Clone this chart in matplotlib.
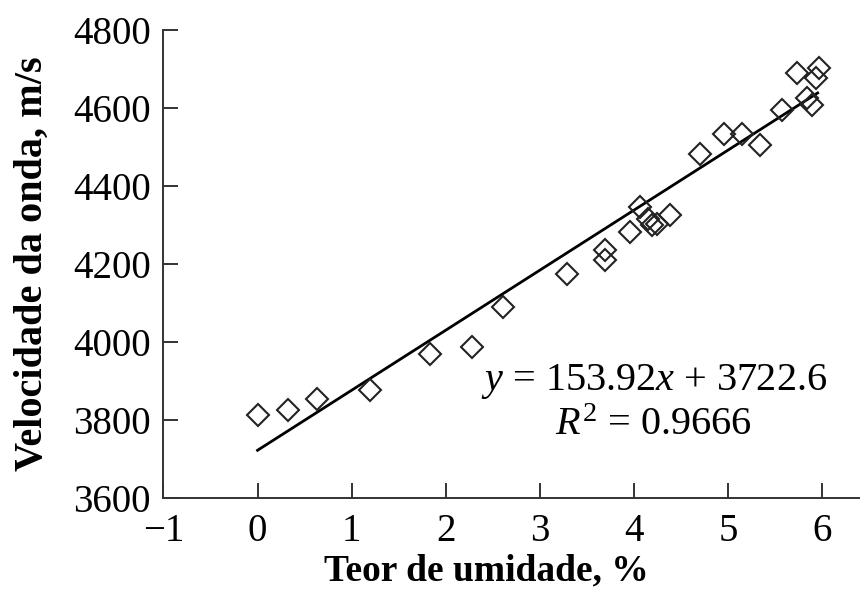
import matplotlib
matplotlib.use('Agg')
import matplotlib.pyplot as plt
import numpy as np

# moisture content (%) and wave velocity (m/s)
teor = [0.00, 0.32, 0.63, 1.19, 1.83, 2.28, 2.61, 3.29, 3.69, 3.69,
        3.96, 4.06, 4.15, 4.19, 4.24, 4.38, 4.70, 4.95, 5.15, 5.34,
        5.57, 5.73, 5.84, 5.89, 5.93, 5.96]
velocidade = [3814, 3827, 3855, 3878, 3970, 3988, 4090, 4175, 4236, 4210,
              4282, 4346, 4315, 4300, 4302, 4325, 4481, 4532, 4532, 4504,
              4595, 4690, 4626, 4608, 4677, 4703]

# fitted line
slope = 153.92
intercept = 3722.6
fit_range = [0.0, 5.95]

xticks = [-1, 0, 1, 2, 3, 4, 5, 6]
yticks = [3600, 3800, 4000, 4200, 4400, 4600, 4800]

plt.rcParams['font.family'] = ['Liberation Serif', 'DejaVu Serif']
plt.rcParams['mathtext.fontset'] = 'custom'
plt.rcParams['mathtext.rm'] = 'Liberation Serif'
plt.rcParams['mathtext.it'] = 'Liberation Serif:italic'

fig = plt.figure(figsize=(8.6, 5.98), dpi=100)
ax = fig.add_axes([0.19, 0.167, 0.81, 0.783])

xf = np.array(fit_range)
ax.plot(xf, slope * xf + intercept, color='black', lw=2.0, zorder=2)
ax.plot(teor, velocidade, linestyle='none', marker='D', markersize=11.5,
        markerfacecolor='none', markeredgecolor='#222222', markeredgewidth=1.5,
        zorder=3)

ax.set_xlim(-1, 6.4)
ax.set_ylim(3600, 4800)
ax.set_xticks(xticks)
ax.set_yticks(yticks)
ax.set_xticklabels([str(t).replace('-', '\u2212') for t in xticks])

ax.spines['top'].set_visible(False)
ax.spines['right'].set_visible(False)
for s in ['left', 'bottom']:
    ax.spines[s].set_linewidth(1.4)
    ax.spines[s].set_color('#333333')
ax.tick_params(direction='in', length=11, width=1.4, color='#333333',
               labelsize=28)
ax.tick_params(axis='y', pad=9)
ax.tick_params(axis='x', pad=11)

ax.set_xlabel('Teor de umidade, %', fontsize=27, fontweight='bold',
              labelpad=2, x=0.463)
ax.set_ylabel('Velocidade da onda, m/s', fontsize=29, fontweight='bold',
              labelpad=16)

ax.text(4.21, 3900, r'$y$ = 153.92$x$ + 3722.6', fontsize=29,
        ha='center', va='center')
ax.text(4.21, 3785, r'$R^2$ = 0.9666', fontsize=29,
        ha='center', va='center')

fig.savefig('out.png', dpi=100)
